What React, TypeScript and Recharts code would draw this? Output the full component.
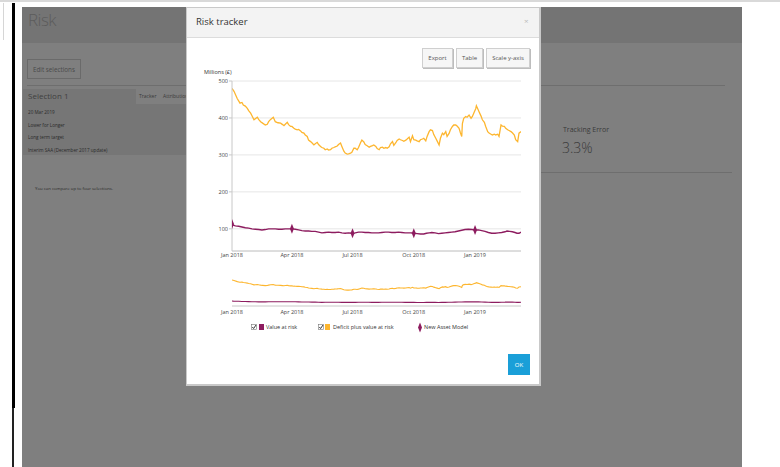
import React from "react";
import { ComposedChart, Line, Scatter, XAxis, YAxis, CartesianGrid } from "recharts";

// Days since 1 Jan 2018
const deficitDays = [
  0, 3, 8, 10, 12, 15, 17, 20, 23, 25,
  28, 30, 33, 35, 38, 40, 43, 46, 50, 53,
  55, 58, 62, 64, 65, 69, 73, 76, 78, 80,
  83, 85, 88, 90, 93, 95, 98, 100, 103, 105,
  108, 110, 113, 115, 118, 120, 123, 125, 128, 130,
  133, 135, 138, 140, 143, 145, 148, 150, 153, 155,
  158, 160, 163, 165, 168, 170, 173, 175, 178, 180,
  183, 185, 188, 190, 193, 195, 198, 200, 203, 206,
  208, 211, 213, 216, 218, 221, 223, 226, 228, 231,
  233, 236, 238, 241, 243, 246, 248, 251, 253, 256,
  258, 261, 263, 266, 268, 271, 273, 276, 278, 281,
  283, 286, 288, 291, 293, 296, 298, 301, 303, 306,
  308, 311, 313, 316, 318, 321, 323, 326, 328, 331,
  333, 336, 338, 341, 343, 345, 346, 348, 351, 353,
  356, 359, 361, 364, 366, 367, 369, 371, 374, 376,
  379, 381, 384, 386, 389, 391, 394, 396, 399, 401,
  404, 406, 409, 411, 414, 416, 419, 421, 424, 426,
  429, 431, 434,
];
const deficitValues = [
  480, 472, 452, 446, 440, 442, 435, 432, 426, 420,
  413, 406, 395, 398, 402, 396, 390, 386, 381, 383,
  390, 396, 402, 394, 390, 387, 386, 382, 379, 383,
  388, 382, 377, 377, 372, 370, 368, 369, 365, 361,
  359, 354, 350, 340, 336, 333, 327, 330, 334, 328,
  323, 320, 318, 314, 316, 313, 314, 318, 320, 322,
  324, 328, 332, 323, 310, 305, 302, 303, 305, 307,
  318, 318, 314, 320, 333, 340, 335, 328, 325, 321,
  323, 325, 327, 323, 317, 314, 320, 321, 318, 320,
  318, 322, 330, 336, 326, 333, 339, 343, 341, 339,
  337, 340, 343, 348, 336, 352, 341, 340, 338, 336,
  341, 343, 345, 338, 350, 363, 368, 366, 355, 345,
  338, 327, 345, 359, 355, 363, 350, 358, 368, 377,
  381, 381, 378, 372, 360, 350, 385, 399, 404, 402,
  408, 399, 404, 417, 425, 433, 425, 417, 405, 395,
  388, 377, 363, 359, 356, 354, 356, 354, 356, 350,
  381, 378, 377, 372, 368, 366, 363, 360, 354, 341,
  336, 359, 363,
];

const varDays = [
  0, 2, 5, 10, 15, 20, 25, 30, 35, 40,
  45, 50, 55, 60, 65, 70, 75, 80, 85, 90,
  95, 100, 105, 110, 115, 120, 125, 130, 135, 140,
  145, 150, 155, 160, 165, 170, 175, 181, 185, 190,
  195, 200, 205, 210, 215, 220, 225, 230, 235, 240,
  245, 250, 255, 260, 265, 270, 273, 278, 283, 288,
  292, 296, 300, 305, 310, 315, 320, 325, 330, 335,
  340, 345, 350, 355, 360, 365, 370, 375, 380, 385,
  390, 395, 400, 405, 410, 413, 417, 421, 425, 428,
  431, 434,
];
const varValues = [
  113, 110, 108, 107, 105, 103, 102, 100, 99, 98,
  97, 98, 100, 100, 100, 99, 99, 100, 100, 100,
  99, 97, 95, 94, 94, 93, 93, 91, 89, 90,
  91, 90, 90, 91, 89, 88, 89, 88, 89, 91,
  91, 90, 90, 89, 89, 89, 90, 91, 91, 90,
  90, 91, 90, 89, 89, 89, 88, 87, 86, 86,
  88, 89, 90, 89, 87, 88, 89, 90, 91, 92,
  94, 96, 98, 99, 98, 97, 97, 95, 93, 90,
  88, 88, 89, 90, 92, 94, 93, 92, 90, 88,
  88, 91,
];

const modelDays = [0, 90, 181, 273, 365];
const modelValues = [113, 100, 88, 88, 97];

const xTicks = [0, 90, 181, 273, 365];
const xTickLabels = ["Jan 2018", "Apr 2018", "Jul 2018", "Oct 2018", "Jan 2019"];
const yTicks = [100, 200, 300, 400, 500];

const ORANGE = "#fdb62f";
const PURPLE = "#8d1c5f";
const FONT = "'Open Sans', 'DejaVu Sans', sans-serif";

const deficitData = deficitDays.map((d, i) => ({ d, v: deficitValues[i] }));
const varData = varDays.map((d, i) => ({ d, v: varValues[i] }));
const modelData = modelDays.map((d, i) => ({ d, v: modelValues[i] }));

const labelFor = (v: number) => {
  const i = xTicks.indexOf(v);
  return i >= 0 ? xTickLabels[i] : "";
};

const XTick = (props: any) => {
  const { x, y, payload, dy } = props;
  return (
    <text x={x} y={y} dy={dy} textAnchor="middle" fontSize={5.5} fill="#444" fontFamily={FONT}>
      {labelFor(payload.value)}
    </text>
  );
};

const Diamond = (props: any) => {
  const { cx, cy } = props;
  if (cx == null || cy == null) return null;
  return <path d={`M${cx},${cy - 5} L${cx + 2},${cy} L${cx},${cy + 5} L${cx - 2},${cy} Z`} fill={PURPLE} />;
};

const abs = (l: number, t: number, w?: number, h?: number, extra: React.CSSProperties = {}): React.CSSProperties => ({
  position: "absolute",
  left: l,
  top: t,
  ...(w !== undefined ? { width: w } : {}),
  ...(h !== undefined ? { height: h } : {}),
  ...extra,
});

const Txt = ({ x, y, size, color, children, weight, ls }: any) => (
  <div style={abs(x, y, undefined, undefined, { fontSize: size, color, whiteSpace: "nowrap", lineHeight: 1, fontWeight: weight || 400, letterSpacing: ls || 0 })}>
    {children}
  </div>
);

const CheckBox = () => (
  <svg width={6} height={6} style={{ display: "block" }}>
    <rect x={0.5} y={0.5} width={5} height={5} fill="#fff" stroke="#777" strokeWidth={0.6} />
    <path d="M1.3,3 L2.6,4.5 L5,1" fill="none" stroke="#222" strokeWidth={0.9} />
  </svg>
);

const Btn = ({ x, w, label }: any) => (
  <div
    style={abs(x, 48, w, 20, {
      boxSizing: "border-box",
      background: "#f6f6f6",
      border: "1px solid #cfcfcf",
      boxShadow: "1px 1px 0 #bdbdbd",
      fontSize: 6,
      color: "#555",
      display: "flex",
      alignItems: "center",
      justifyContent: "center",
    })}
  >
    {label}
  </div>
);

export default function App() {
  return (
    <div style={abs(0, 0, 780, 467, { background: "#fff", overflow: "hidden", fontFamily: FONT })}>
      {/* top strip and left elements */}
      <div style={abs(0, 0, 780, 2, { background: "#d9d9d9" })} />
      <div style={abs(0, 3, 3, 37, { borderRight: "1px solid #d6d6d6" })} />
      <div style={abs(12, 3, 3, 405, { background: "#000" })} />
      <div style={abs(12, 408, 2, 59, { background: "#222" })} />

      {/* dimmed app background */}
      <div style={abs(22, 7, 720, 460, { background: "#7f7f7f" })} />
      <div style={abs(22, 7, 720, 36, { background: "#747474" })} />
      <Txt x={28} y={11} size={17} color="#5c5c5c" weight={300} ls={-0.5}>Risk</Txt>
      <div style={abs(27, 59, 54, 20, { boxSizing: "border-box", border: "1px solid #6a6a6a", fontSize: 6.3, color: "#4a4a4a", display: "flex", alignItems: "center", justifyContent: "center" })}>
        Edit selections
      </div>
      <div style={abs(27, 85, 698, 1, { background: "#6e6e6e" })} />
      <div style={abs(23, 89, 163, 66, { background: "#767676" })} />
      <div style={abs(136, 89, 50, 15, { background: "#7f7f7f" })} />
      <Txt x={139} y={94} size={5} color="#3a3a3a">Tracker</Txt>
      <Txt x={163} y={94} size={5} color="#3a3a3a">Attribution</Txt>
      <Txt x={28} y={92} size={8} color="#404040">Selection 1</Txt>
      <Txt x={28} y={110} size={4.6} color="#2a2a2a">20 Mar 2019</Txt>
      <Txt x={28} y={123} size={4.6} color="#2a2a2a">Lower for Longer</Txt>
      <Txt x={28} y={135} size={4.6} color="#2a2a2a">Long term target</Txt>
      <Txt x={28} y={147.5} size={4.6} color="#2a2a2a">Interim SAA (December 2017 update)</Txt>
      <Txt x={35} y={186} size={4.3} color="#2a2a2a">You can compare up to four selections.</Txt>
      <Txt x={563} y={126} size={7} color="#3a3a3a">Tracking Error</Txt>
      <Txt x={562} y={141} size={14} color="#3a3a3a" weight={300}>3.3%</Txt>
      <div style={abs(540, 172, 192, 1, { background: "#6e6e6e" })} />

      {/* modal */}
      <div style={abs(186, 7, 355, 379, { boxSizing: "border-box", background: "#fff", border: "1px solid #c9c9c9", borderRightWidth: 2, borderBottomWidth: 2 })} />
      <div style={abs(187, 8, 352, 29, { background: "#f3f3f3", borderBottom: "1px solid #dcdcdc" })} />
      <Txt x={196} y={17} size={9.5} color="#333">Risk tracker</Txt>
      <Txt x={524} y={17} size={8} color="#bbb">×</Txt>

      <Btn x={422} w={31} label="Export" />
      <Btn x={456} w={27} label="Table" />
      <Btn x={486} w={44} label="Scale y-axis" />

      <Txt x={204} y={70} size={5.5} color="#333">Millions (£)</Txt>

      <div style={abs(200, 70)}>
        <ComposedChart width={340} height={200} margin={{ top: 11, right: 19, bottom: 0, left: 0 }}>
          <CartesianGrid horizontal vertical={false} stroke="#e6e6e6" strokeWidth={1} />
          <XAxis
            type="number"
            dataKey="d"
            domain={[0, 434]}
            ticks={xTicks}
            allowDataOverflow
            height={19}
            tickSize={0}
            tickMargin={0}
            tick={<XTick dy={5.5} />}
            axisLine={{ stroke: "#c8c8c8" }}
          />
          <YAxis
            type="number"
            domain={[40, 500]}
            ticks={yTicks}
            allowDataOverflow
            width={32}
            tickSize={3}
            tickMargin={1}
            tick={{ fontSize: 5.5, fill: "#444", fontFamily: FONT }}
            tickLine={{ stroke: "#c8c8c8" }}
            axisLine={{ stroke: "#c8c8c8" }}
          />
          <Line data={deficitData} dataKey="v" stroke={ORANGE} strokeWidth={1.3} dot={false} isAnimationActive={false} />
          <Line data={varData} dataKey="v" stroke={PURPLE} strokeWidth={1.4} dot={false} isAnimationActive={false} />
          <Scatter data={modelData} dataKey="v" fill={PURPLE} shape={<Diamond />} isAnimationActive={false} />
        </ComposedChart>
      </div>

      <div style={abs(200, 265)}>
        <ComposedChart width={340} height={55} margin={{ top: 7, right: 19, bottom: 0, left: 32 }}>
          <XAxis
            type="number"
            dataKey="d"
            domain={[0, 434]}
            ticks={xTicks}
            allowDataOverflow
            height={14}
            tickSize={0}
            tickMargin={0}
            tick={<XTick dy={7.5} />}
            axisLine={{ stroke: "#c8c8c8" }}
          />
          <YAxis hide type="number" domain={[25, 620]} allowDataOverflow />
          <Line data={deficitData} dataKey="v" stroke={ORANGE} strokeWidth={1.1} dot={false} isAnimationActive={false} />
          <Line data={varData} dataKey="v" stroke={PURPLE} strokeWidth={1.1} dot={false} isAnimationActive={false} />
        </ComposedChart>
      </div>

      {/* legend */}
      <div style={abs(251, 324)}><CheckBox /></div>
      <div style={abs(259, 324, 5, 6, { background: PURPLE })} />
      <Txt x={266} y={324.5} size={5.5} color="#333">Value at risk</Txt>
      <div style={abs(318, 324)}><CheckBox /></div>
      <div style={abs(325, 324, 5, 6, { background: ORANGE })} />
      <Txt x={333} y={324.5} size={5.5} color="#333">Deficit plus value at risk</Txt>
      <svg style={abs(417, 322, 6, 11)} width={6} height={11}>
        <path d="M3,0.5 L5,5.5 L3,10.5 L1,5.5 Z" fill={PURPLE} />
      </svg>
      <Txt x={424} y={324.5} size={5.5} color="#333">New Asset Model</Txt>

      <div style={abs(508, 354, 22, 21, { background: "#1a9fd8", color: "#fff", fontSize: 6, display: "flex", alignItems: "center", justifyContent: "center" })}>
        OK
      </div>
    </div>
  );
}
